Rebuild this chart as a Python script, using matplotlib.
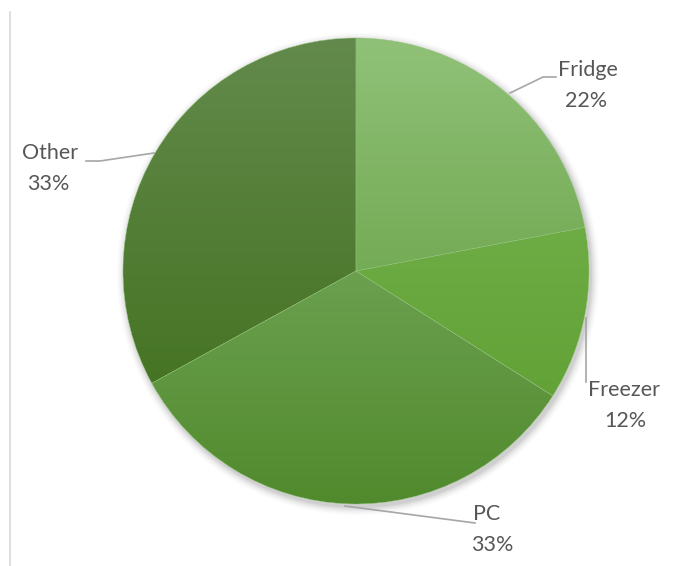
import matplotlib
matplotlib.use("Agg")
import matplotlib.pyplot as plt
import numpy as np
from matplotlib.colors import LinearSegmentedColormap
from matplotlib.patches import Circle

labels = ["Fridge", "Freezer", "PC", "Other"]
values = [22, 12, 33, 33]
pct_labels = ["22%", "12%", "33%", "33%"]
top_colors = ["#90c178", "#6eac45", "#6ba04f", "#638a4c"]
bottom_colors = ["#74ab55", "#62a236", "#518a2d", "#467424"]

W, H = 673, 566
fig = plt.figure(figsize=(W / 100, H / 100), dpi=100)
ax = fig.add_axes([0, 0, 1, 1])
ax.set_xlim(0, W)
ax.set_ylim(0, H)
ax.axis("off")

cx, cy, r = 356, H - 271, 233

# soft shadow
for i, a in enumerate(np.linspace(0.05, 0.01, 6)):
    ax.add_patch(Circle((cx + 2, cy - 3), r + 1 + i * 1.5, color="black", alpha=a, lw=0, zorder=0))
ax.add_patch(Circle((cx, cy), r, color="white", lw=0, zorder=0.5))

wedges, _ = ax.pie(values, startangle=90, counterclock=False, center=(cx, cy),
                   radius=r, frame=True, wedgeprops=dict(lw=0.3, edgecolor="#8cbf74"))
ax.set_xlim(0, W)
ax.set_ylim(0, H)
ax.axis("off")

for w, tc, bc in zip(wedges, top_colors, bottom_colors):
    w.set_facecolor("none")
    bb = w.get_path().get_extents(w.get_patch_transform())
    cmap = LinearSegmentedColormap.from_list("g", [bc, tc])
    grad = np.linspace(0, 1, 256).reshape(-1, 1)
    im = ax.imshow(grad, cmap=cmap, origin="lower", aspect="auto",
                   extent=[bb.x0, bb.x1, bb.y0, bb.y1], zorder=1)
    im.set_clip_path(w)
    w.set_zorder(2)

ax.set_xlim(0, W)
ax.set_ylim(0, H)

def Y(y):
    return H - y

lc = "#a6a6a6"
leaders = {
    "Fridge": [(510, 93), (543, 77), (556, 77)],
    "Other": [(86, 161), (100, 161), (154, 153)],
    "Freezer": [(586, 318), (586, 382)],
    "PC": [(345, 506), (475, 523)],
}
for k, pts in leaders.items():
    xs = [p[0] for p in pts]
    ys = [Y(p[1]) for p in pts]
    ax.plot(xs, ys, color=lc, lw=1.2, zorder=3)

name_pos = {"Fridge": (588, 70), "Freezer": (624, 390), "PC": (487, 514), "Other": (50, 153)}
pct_pos = {"Fridge": (586, 101), "Freezer": (625, 421), "PC": (492, 545), "Other": (48, 184)}
tc_ = "#575757"
for lab, pl in zip(labels, pct_labels):
    x, y = name_pos[lab]
    ax.text(x, Y(y), lab, ha="center", va="center", fontsize=15.5, color=tc_, family="Lato")
    x, y = pct_pos[lab]
    ax.text(x, Y(y), pl, ha="center", va="center", fontsize=15.5, color=tc_, family="Lato")

ax.plot([10, 10], [Y(12), 0], color="#d9d9d9", lw=1.2, zorder=3)

fig.savefig("out.png", dpi=100)
